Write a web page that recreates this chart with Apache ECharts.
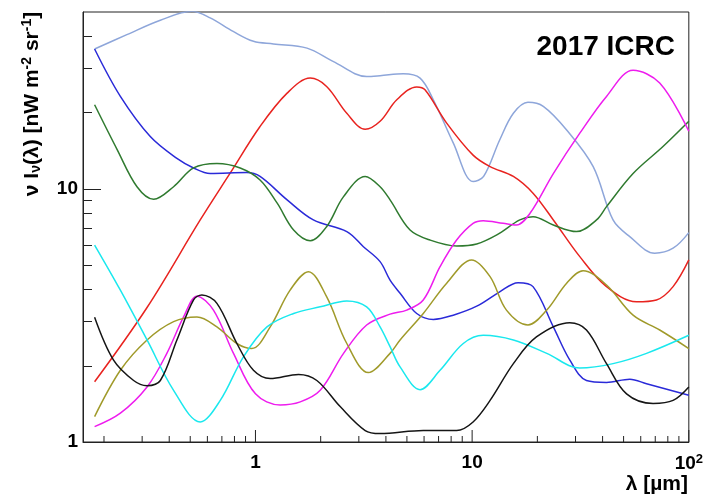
<!DOCTYPE html>
<html>
<head>
<meta charset="utf-8">
<script src="https://cdn.jsdelivr.net/npm/echarts@6/dist/echarts.min.js"></script>
<style>
html,body{margin:0;padding:0;background:#ffffff;}
#chart{width:706px;height:495px;}
</style>
</head>
<body>
<div id="chart"></div>
<script>
// Spectral intensity models, [wavelength (µm), nu I_nu (nW m^-2 sr^-1)]
const lightBlueCurve = [
  [0.181, 35.7], [0.255, 40.7], [0.364, 46.4], [0.509, 50.3], [0.618, 47.4],
  [0.789, 41.9], [0.979, 38.3], [1.21, 37.4], [1.73, 36.0], [2.28, 31.9],
  [3.26, 27.8], [3.76, 28.0], [4.81, 28.5], [5.75, 27.4], [6.62, 22.5],
  [8.18, 15.2], [10.1, 10.7], [11.3, 11.2], [13.4, 15.6], [15.5, 19.9],
  [18.1, 22.0], [21.3, 21.2], [27.3, 17.1], [36.2, 12.25], [44.7, 7.54],
  [53.4, 6.48], [69.6, 5.57], [84.6, 5.83], [100, 6.72]
];
const redCurve = [
  [0.181, 1.73], [0.316, 3.40], [0.556, 7.54], [0.764, 11.54], [1.05, 17.64],
  [1.40, 23.9], [1.79, 27.4], [2.13, 25.4], [2.64, 19.9], [3.21, 17.2],
  [3.76, 18.5], [4.49, 22.5], [5.55, 25.3], [6.06, 24.65], [7.63, 18.2],
  [10.1, 13.6], [12.1, 12.25], [15.5, 11.2], [19.1, 9.62], [23.7, 7.54],
  [31.4, 5.40], [41.7, 4.11], [57.3, 3.58], [70.9, 3.64], [84.6, 4.11], [100, 5.24]
];
const blueCurve = [
  [0.181, 35.7], [0.238, 23.2], [0.327, 16.1], [0.434, 13.2], [0.518, 12.1],
  [0.618, 11.5], [0.913, 11.6], [1.05, 11.2], [1.40, 9.05], [1.85, 7.54],
  [2.64, 6.78], [3.15, 5.91], [3.76, 5.16], [4.18, 4.36], [4.65, 3.87],
  [5.55, 3.22], [6.62, 3.05], [8.18, 3.17], [10.5, 3.44], [13.4, 3.92],
  [16.3, 4.26], [19.1, 4.11], [23.7, 2.85], [28.2, 2.11], [33.7, 1.75],
  [41.7, 1.72], [53.4, 1.77], [63.8, 1.70], [100, 1.53]
];
const greenCurve = [
  [0.181, 21.5], [0.230, 14.3], [0.284, 10.2], [0.339, 9.10], [0.419, 10.2],
  [0.518, 12.1], [0.664, 12.6], [0.850, 12.1], [1.05, 10.85], [1.26, 8.78],
  [1.50, 6.88], [1.79, 6.24], [2.13, 7.09], [2.55, 9.32], [3.21, 11.2],
  [3.76, 10.2], [4.18, 9.05], [5.17, 6.88], [6.39, 6.28], [8.48, 5.95],
  [10.5, 6.06], [13.0, 6.58], [16.6, 7.54], [19.1, 7.77], [23.7, 7.20],
  [30.3, 6.78], [37.5, 7.54], [41.7, 8.51], [55.3, 11.5], [76.0, 14.7], [100, 18.5]
];
const magentaCurve = [
  [0.181, 1.15], [0.238, 1.30], [0.316, 1.65], [0.390, 2.24], [0.466, 3.12],
  [0.537, 3.77], [0.640, 3.32], [0.792, 2.24], [1.0, 1.55], [1.30, 1.40],
  [1.61, 1.44], [1.99, 1.60], [2.55, 2.24], [3.26, 2.90], [4.18, 3.20],
  [4.99, 3.32], [5.95, 3.64], [7.11, 4.93], [8.48, 6.28], [10.1, 7.31],
  [11.25, 7.49], [13.9, 7.31], [16.0, 7.20], [18.5, 8.01], [23.7, 11.5],
  [31.4, 16.6], [41.7, 23.2], [55.3, 29.4], [73.4, 26.2], [100, 16.9]
];
const oliveCurve = [
  [0.181, 1.26], [0.238, 1.92], [0.316, 2.53], [0.419, 2.99], [0.537, 3.12],
  [0.664, 2.85], [0.821, 2.45], [0.962, 2.34], [1.17, 2.85], [1.445, 3.98],
  [1.755, 4.71], [2.13, 3.75], [2.64, 2.45], [3.32, 1.88], [4.18, 2.24],
  [4.65, 2.53], [5.95, 3.22], [7.63, 4.24], [9.95, 5.24], [12.1, 4.50],
  [14.4, 3.32], [18.1, 2.90], [22.1, 3.32], [27.3, 4.24], [32.5, 4.75],
  [41.7, 4.17], [55.3, 3.17], [73.4, 2.77], [100, 2.34]
];
const cyanCurve = [
  [0.181, 6.00], [0.238, 3.98], [0.316, 2.53], [0.419, 1.60], [0.556, 1.20],
  [0.688, 1.46], [0.880, 2.17], [1.13, 2.85], [1.50, 3.22], [1.99, 3.42],
  [2.64, 3.61], [3.26, 3.42], [3.76, 2.85], [4.18, 2.38], [4.65, 1.98],
  [5.75, 1.61], [7.11, 1.92], [9.10, 2.45], [11.25, 2.64], [15.5, 2.53],
  [22.1, 2.24], [31.4, 1.96], [44.7, 2.04], [63.8, 2.24], [100, 2.64]
];
const blackCurve = [
  [0.181, 3.11], [0.221, 2.11], [0.274, 1.75], [0.316, 1.67], [0.364, 1.75],
  [0.434, 2.53], [0.518, 3.64], [0.566, 3.81], [0.664, 3.53], [0.821, 2.45],
  [0.979, 1.92], [1.17, 1.78], [1.58, 1.85], [1.92, 1.75], [2.46, 1.38],
  [3.21, 1.11], [3.76, 1.08], [5.95, 1.11], [8.48, 1.11], [10.1, 1.20],
  [12.1, 1.46], [15.5, 2.04], [19.8, 2.60], [28.2, 2.96], [33.7, 2.77],
  [41.7, 2.04], [51.6, 1.55], [68.4, 1.42], [84.6, 1.46], [100, 1.65]
];

// Axis ticks
const xMajorTicks = [1, 10, 100];
const xMinorTicks = [0.2, 0.3, 0.4, 0.5, 0.6, 0.7, 0.8, 0.9,
                     2, 3, 4, 5, 6, 7, 8, 9,
                     20, 30, 40, 50, 60, 70, 80, 90];
const yMajorTicks = [1, 10];
const yMinorTicks = [2, 3, 4, 5, 6, 7, 8, 9, 20, 30, 40];

const curves = [
  { data: lightBlueCurve, color: '#8ea6da' },
  { data: redCurve,       color: '#e8231f' },
  { data: blueCurve,      color: '#2a2ad8' },
  { data: greenCurve,     color: '#2f7a2f' },
  { data: magentaCurve,   color: '#ee1cee' },
  { data: oliveCurve,     color: '#a09a2a' },
  { data: cyanCurve,      color: '#1ae8ee' },
  { data: blackCurve,     color: '#151515' }
];

const FONT = '"Liberation Sans", Arial, Helvetica, sans-serif';
const X_MIN = 0.16, X_MAX = 100, Y_MIN = 1, Y_MAX = 50;
const AXIS_COLOR = '#222';

const chart = echarts.init(document.getElementById('chart'), null, { renderer: 'canvas' });

const labelStyle = { fontFamily: FONT, fontWeight: 'bold', fontSize: 19, color: '#000' };
const tickLine = { color: AXIS_COLOR, width: 1 };

// Inward tick marks along the wavelength axis, placed through the axis scale
function xTickSeries(ticks, len) {
  return {
    type: 'custom', xAxisIndex: 0, yAxisIndex: 0, clip: false, silent: true, z: 5,
    data: ticks.map(function (v) { return [v, Y_MIN]; }),
    encode: { x: 0, y: 1 },
    renderItem: function (params, api) {
      const p = api.coord([api.value(0), api.value(1)]);
      return {
        type: 'line',
        shape: { x1: p[0], y1: p[1], x2: p[0], y2: p[1] - len },
        style: { stroke: AXIS_COLOR, lineWidth: 1 }
      };
    }
  };
}

const lineSeries = curves.map(function (c) {
  return {
    type: 'line', xAxisIndex: 0, yAxisIndex: 0,
    data: c.data, showSymbol: false, smooth: 0.35, clip: true,
    lineStyle: { color: c.color, width: 1.5 },
    itemStyle: { color: c.color },
    emphasis: { disabled: true }
  };
});

chart.setOption({
  animation: false,
  backgroundColor: '#ffffff',
  grid: {
    left: 83, right: 17, top: 12, bottom: 53,
    show: true, borderColor: AXIS_COLOR, borderWidth: 1
  },
  xAxis: [
    {
      type: 'log', logBase: 10, min: X_MIN, max: X_MAX, position: 'bottom',
      axisLine: { show: true, onZero: false, lineStyle: tickLine },
      axisTick: { show: false },
      axisLabel: {
        show: true, margin: 11, customValues: xMajorTicks,
        formatter: function (v) {
          return v >= 100 ? '{n|10}{sup|2}' : '{n|' + Math.round(v) + '}';
        },
        rich: {
          n: { fontFamily: FONT, fontWeight: 'bold', fontSize: 19, color: '#000' },
          sup: { fontFamily: FONT, fontWeight: 'bold', fontSize: 13, color: '#000',
                 padding: [0, 0, 9, 0] }
        }
      },
      splitLine: { show: false }, minorTick: { show: false }
    }
  ],
  yAxis: [
    {
      type: 'log', logBase: 10, min: Y_MIN, max: Y_MAX, position: 'left',
      axisLine: { show: true, onZero: false, lineStyle: tickLine },
      axisTick: { show: true, inside: true, length: 18, customValues: yMajorTicks, lineStyle: tickLine },
      axisLabel: Object.assign({ show: true, margin: 5, customValues: yMajorTicks,
        formatter: function (v) { return String(Math.round(v)); } }, labelStyle),
      splitLine: { show: false }
    },
    {
      type: 'log', logBase: 10, min: Y_MIN, max: Y_MAX, position: 'left', offset: 0,
      axisLine: { show: false, onZero: false },
      axisTick: { show: true, inside: true, length: 9, customValues: yMinorTicks, lineStyle: tickLine },
      axisLabel: { show: false },
      splitLine: { show: false }
    }
  ],
  series: lineSeries.concat([xTickSeries(xMajorTicks, 12), xTickSeries(xMinorTicks, 6)]),
  graphic: [
    {
      type: 'text', right: 31, top: 33,
      style: { text: '2017 ICRC', fontFamily: FONT, fontWeight: 'bold', fontSize: 28, fill: '#000' }
    },
    {
      type: 'text', right: 18, top: 474,
      style: { text: 'λ [µm]', fontFamily: FONT, fontWeight: 'bold', fontSize: 21, fill: '#000' }
    },
    {
      type: 'text', x: 32, y: 104, rotation: Math.PI / 2,
      style: {
        text: 'ν I{sub|ν}(λ) [nW m{sup|-2} sr{sup|-1}]',
        align: 'center', verticalAlign: 'middle',
        fontFamily: FONT, fontWeight: 'bold', fontSize: 21, fill: '#000',
        rich: {
          sub: { fontFamily: FONT, fontWeight: 'bold', fontSize: 14, fill: '#000', padding: [8, 0, 0, 0] },
          sup: { fontFamily: FONT, fontWeight: 'bold', fontSize: 14, fill: '#000', padding: [0, 0, 9, 0] }
        }
      }
    }
  ]
});
</script>
</body>
</html>
